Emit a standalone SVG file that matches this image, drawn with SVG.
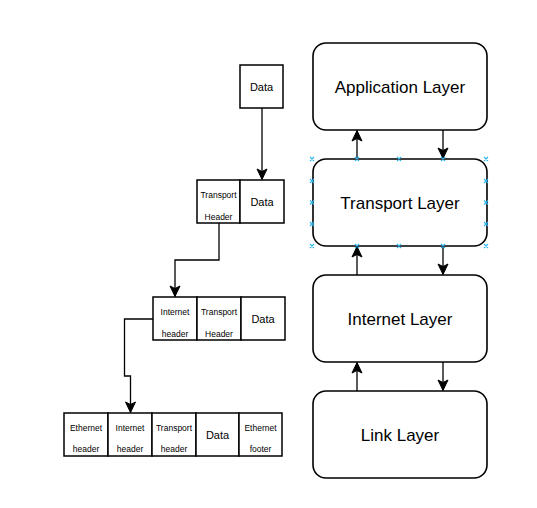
<svg xmlns="http://www.w3.org/2000/svg" width="537" height="508" viewBox="0 0 537 508">
<style>
.layer{fill:#fff;stroke:#000;stroke-width:1.6}
.cell{fill:#fff;stroke:#000;stroke-width:1.5}
.lt{font-family:"Liberation Sans",Arial,sans-serif;font-size:17px;text-anchor:middle;fill:#000}
.st{font-family:"Liberation Sans",Arial,sans-serif;font-size:8.5px;text-anchor:middle;fill:#000}
.dt{font-family:"Liberation Sans",Arial,sans-serif;font-size:11px;text-anchor:middle;fill:#000}
.edge{fill:none;stroke:#000;stroke-width:1.3}
.sel{stroke:#29b6f2;stroke-width:1.1;fill:none}
</style>
<defs>
<marker id="arr" markerUnits="userSpaceOnUse" markerWidth="14" markerHeight="14" viewBox="0 0 14 14" refX="12" refY="7" orient="auto">
<path d="M1.5,2 L12,7 L1.5,12 L4,7 Z" fill="#000" stroke="#000" stroke-width="1"/>
</marker>
</defs>
<rect width="537" height="508" fill="#fff"/>

<g id="application-layer">
<rect class="layer" x="313" y="43" width="174" height="87" rx="13"/>
<text class="lt" x="400" y="93">Application Layer</text>
</g>
<g id="transport-layer">
<rect class="layer" x="313" y="159" width="174" height="87" rx="13"/>
<text class="lt" x="400" y="209">Transport Layer</text>
</g>
<g id="internet-layer">
<rect class="layer" x="313" y="275" width="174" height="87" rx="13"/>
<text class="lt" x="400" y="325">Internet Layer</text>
</g>
<g id="link-layer">
<rect class="layer" x="313" y="391" width="174" height="87" rx="13"/>
<text class="lt" x="400" y="441">Link Layer</text>
</g>

<g id="data-packet">
<rect class="cell" x="240" y="65" width="43" height="43"/>
<text class="dt" x="261.5" y="91">Data</text>
</g>
<g id="transport-packet">
<rect class="cell" x="197" y="180" width="43" height="43"/>
<rect class="cell" x="240" y="180" width="44" height="43"/>
<text class="st" x="218.5" y="198">Transport</text>
<text class="st" x="218.5" y="219.5">Header</text>
<text class="dt" x="262" y="206">Data</text>
</g>
<g id="internet-packet">
<rect class="cell" x="153" y="297" width="44" height="43"/>
<rect class="cell" x="197" y="297" width="44" height="43"/>
<rect class="cell" x="241" y="297" width="44" height="43"/>
<text class="st" x="175" y="315">Internet</text>
<text class="st" x="175" y="336.5">header</text>
<text class="st" x="219" y="315">Transport</text>
<text class="st" x="219" y="336.5">Header</text>
<text class="dt" x="263" y="323">Data</text>
</g>
<g id="ethernet-frame">
<rect class="cell" x="64" y="413" width="44" height="43"/>
<rect class="cell" x="108" y="413" width="44" height="43"/>
<rect class="cell" x="152" y="413" width="44" height="43"/>
<rect class="cell" x="196" y="413" width="43" height="43"/>
<rect class="cell" x="239" y="413" width="43" height="43"/>
<text class="st" x="86" y="430.5">Ethernet</text>
<text class="st" x="86" y="452">header</text>
<text class="st" x="130" y="430.5">Internet</text>
<text class="st" x="130" y="452">header</text>
<text class="st" x="174" y="430.5">Transport</text>
<text class="st" x="174" y="452">header</text>
<text class="dt" x="217.5" y="439">Data</text>
<text class="st" x="260.5" y="430.5">Ethernet</text>
<text class="st" x="260.5" y="452">footer</text>
</g>

<g id="connectors">
<path class="edge" d="M357,159 V130.5" marker-end="url(#arr)"/>
<path class="edge" d="M443,130 V158.5" marker-end="url(#arr)"/>
<path class="edge" d="M357,275 V246.5" marker-end="url(#arr)"/>
<path class="edge" d="M443,246 V274.5" marker-end="url(#arr)"/>
<path class="edge" d="M357,391 V362.5" marker-end="url(#arr)"/>
<path class="edge" d="M443,362 V390.5" marker-end="url(#arr)"/>
<path class="edge" d="M262,108 V179.5" marker-end="url(#arr)"/>
<path class="edge" d="M219,223 V260 H175 V296.5" marker-end="url(#arr)"/>
<path class="edge" d="M153,319 H124.5 V376 H130.5 V412.5" marker-end="url(#arr)"/>
</g>

<g id="selection-handles" class="sel">
<path d="M310,157l4,4m0,-4l-4,4 M355,157l4,4m0,-4l-4,4 M397,157l4,4m0,-4l-4,4 M441,157l4,4m0,-4l-4,4 M484,157l4,4m0,-4l-4,4"/>
<path d="M310,244l4,4m0,-4l-4,4 M355,244l4,4m0,-4l-4,4 M397,244l4,4m0,-4l-4,4 M441,244l4,4m0,-4l-4,4 M484,244l4,4m0,-4l-4,4"/>
<path d="M310,179l4,4m0,-4l-4,4 M310,200.5l4,4m0,-4l-4,4 M310,222l4,4m0,-4l-4,4"/>
<path d="M484,179l4,4m0,-4l-4,4 M484,200.5l4,4m0,-4l-4,4 M484,222l4,4m0,-4l-4,4"/>
</g>
</svg>
